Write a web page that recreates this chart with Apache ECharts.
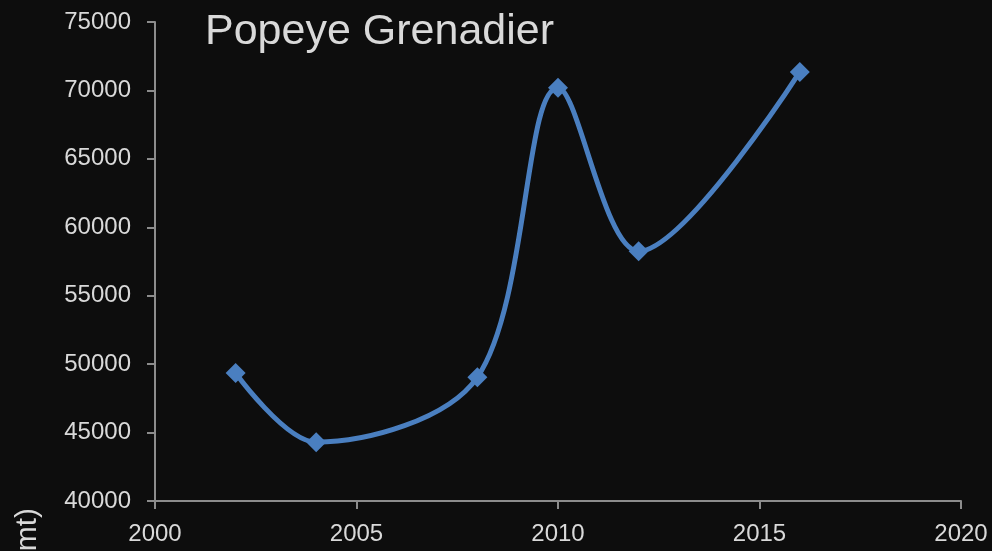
<!DOCTYPE html>
<html>
<head>
<meta charset="utf-8">
<style>
  html, body { margin: 0; padding: 0; background: #0d0d0d; }
  #chart { width: 992px; height: 551px; }
</style>
<script src="https://cdn.jsdelivr.net/npm/echarts@6/dist/echarts.min.js"></script>
</head>
<body>
<div id="chart"></div>
<script>
// values
var years = [2002, 2004, 2008, 2010, 2012, 2016]
var catchMt = [49350, 44300, 49050, 70200, 58250, 71350]

var xTicks = [2000, 2005, 2010, 2015, 2020]
var yTicks = [40000, 45000, 50000, 55000, 60000, 65000, 70000, 75000]

var FONT = '"Liberation Sans", Arial, sans-serif'
var textColor = '#d9d9d9'
var axisColor = '#8c8c8c'
var lineColor = '#4a7fc0'

var myChart = echarts.init(document.getElementById('chart'))

var option = {
    backgroundColor: '#0d0d0d',
    animation: false,
    grid: {
        left: 155,
        right: 31,
        top: 22,
        bottom: 50,
        outerBoundsMode: 'none'
    },
    graphic: [{
        type: 'text',
        left: 205,
        top: 11,
        style: {
            text: 'Popeye Grenadier',
            fill: textColor,
            font: '43px ' + FONT
        }
    }, {
        type: 'text',
        x: 28,
        y: 508,
        rotation: Math.PI / 2,
        style: {
            text: '(mt)',
            fill: textColor,
            font: '30px ' + FONT,
            align: 'right',
            verticalAlign: 'middle'
        }
    }],
    xAxis: {
        type: 'value',
        min: xTicks[0],
        max: xTicks[xTicks.length - 1],
        interval: 5,
        splitLine: { show: false },
        axisLine: { lineStyle: { color: axisColor, width: 2 } },
        axisTick: { show: true, length: 8, lineStyle: { color: axisColor, width: 2 } },
        axisLabel: {
            color: textColor,
            fontFamily: FONT,
            fontSize: 24,
            margin: 21,
            showMinLabel: true,
            showMaxLabel: true,
            formatter: function (v) { return String(v) }
        }
    },
    yAxis: {
        type: 'value',
        min: yTicks[0],
        max: yTicks[yTicks.length - 1],
        interval: 5000,
        splitLine: { show: false },
        axisLine: { show: true, lineStyle: { color: axisColor, width: 2 } },
        axisTick: { show: true, length: 8, lineStyle: { color: axisColor, width: 2 } },
        axisLabel: {
            color: textColor,
            fontFamily: FONT,
            fontSize: 24,
            margin: 24,
            formatter: function (v) { return String(v) }
        }
    },
    series: [{
        type: 'line',
        data: years.map(function (y, i) { return [y, catchMt[i]] }),
        smooth: 0.33,
        smoothConstraint: false,
        symbol: 'diamond',
        symbolSize: 20,
        lineStyle: { color: lineColor, width: 5 },
        itemStyle: { color: lineColor }
    }]
}

myChart.setOption(option)
</script>
</body>
</html>
